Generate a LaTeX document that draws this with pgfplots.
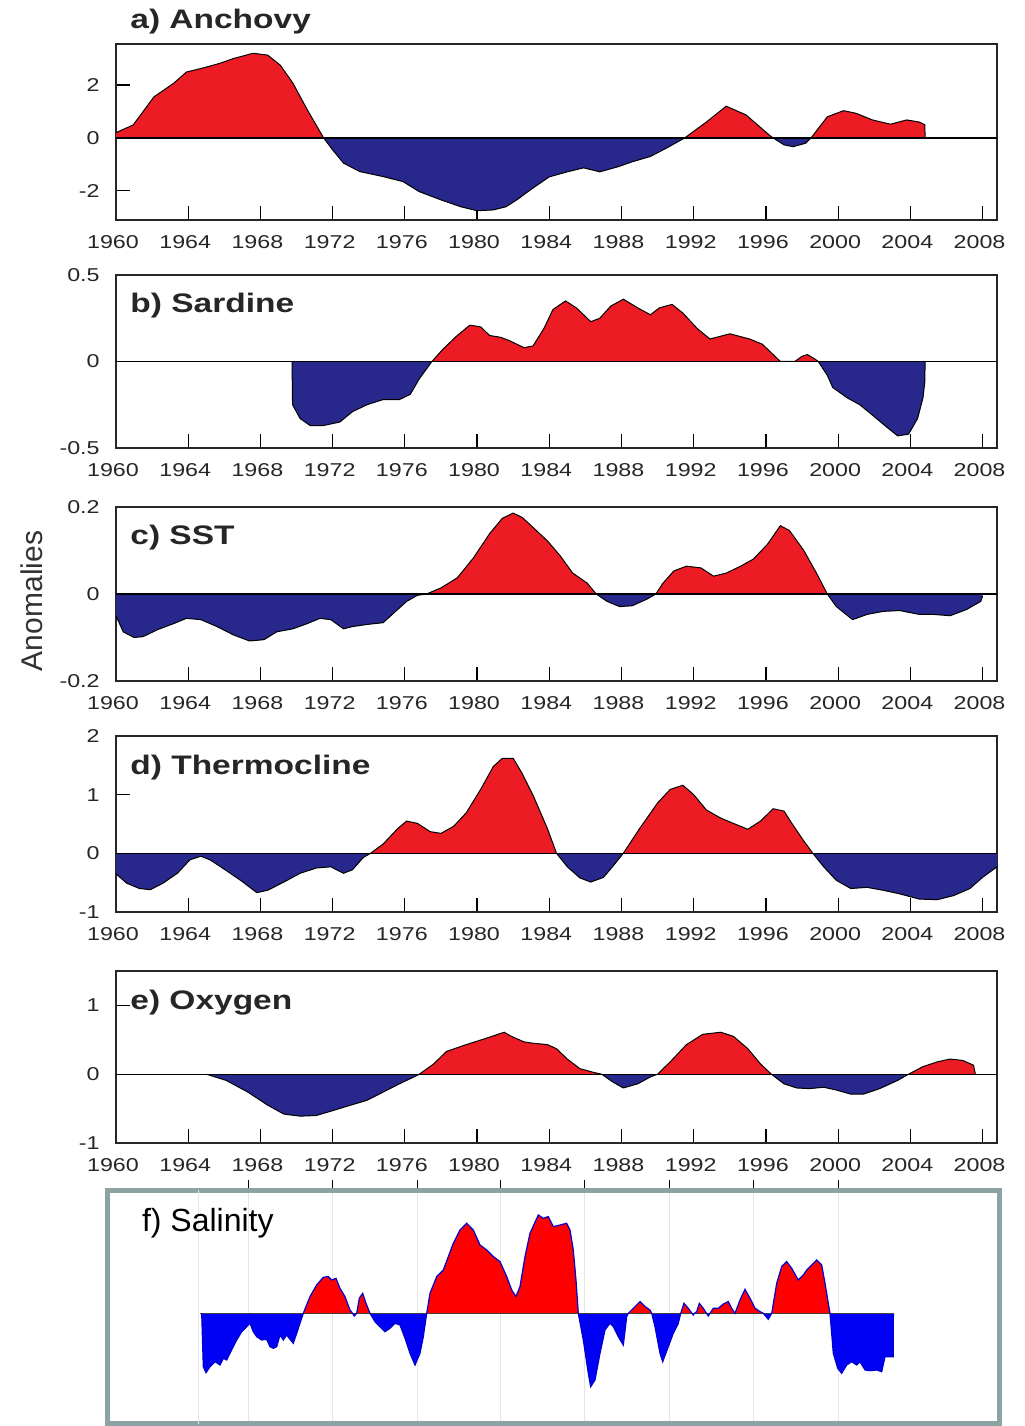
\documentclass[border=0pt]{standalone}
\usepackage{pgfplots}
\pgfplotsset{compat=1.18}
\usepackage{pgfplotstable}
\usepackage{fontspec}
\setmainfont{Liberation Sans}
\newfontfamily\stretchfont[FakeStretch=1.25]{Liberation Sans}
\definecolor{ared}{RGB}{237,28,36}
\definecolor{anavy}{RGB}{40,40,140}
\definecolor{fred}{RGB}{255,0,0}
\definecolor{fblue}{RGB}{0,0,245}
\definecolor{fframe}{RGB}{140,163,163}
\newcommand\tf{\stretchfont\fontsize{9.3pt}{10pt}\selectfont}
\newcommand\ttl{\stretchfont\bfseries\fontsize{13.4pt}{15pt}\selectfont}

\pgfplotstableread{
x y
1960 0.2
1960.95 0.49
1962.1 1.55
1963.2 2.07
1963.9 2.49
1964.8 2.64
1965.8 2.83
1966.5 3.0
1967.6 3.2
1968.4 3.13
1969.1 2.75
1969.8 2.07
1970.6 1.06
1971.5 0
1972.0 -0.45
1972.6 -0.95
1973.5 -1.27
1974.8 -1.46
1975.9 -1.65
1976.8 -2.03
1978.0 -2.34
1979.1 -2.6
1980.0 -2.75
1980.9 -2.72
1981.6 -2.6
1982.2 -2.34
1983.1 -1.89
1984.0 -1.47
1985.0 -1.28
1985.9 -1.13
1986.8 -1.28
1987.8 -1.09
1988.6 -0.9
1989.6 -0.7
1990.5 -0.38
1991.5 0
1992.7 0.6
1993.8 1.2
1994.9 0.87
1996.2 0.1
1996.4 0
1997.0 -0.26
1997.5 -0.33
1998.2 -0.2
1998.5 0
1999.4 0.8
2000.3 1.03
2001.0 0.93
2001.9 0.68
2002.9 0.52
2003.8 0.68
2004.5 0.6
2004.8 0.5
2004.82 0
}\anch

\pgfplotstableread{
x y
1969.75 0
1969.78 -0.25
1970.2 -0.33
1970.75 -0.37
1971.5 -0.37
1972.4 -0.35
1973.1 -0.29
1973.9 -0.25
1974.8 -0.22
1975.7 -0.22
1976.3 -0.19
1976.8 -0.1
1977.5 0
1978.1 0.07
1978.9 0.15
1979.6 0.21
1980.2 0.2
1980.7 0.15
1981.3 0.14
1981.8 0.12
1982.6 0.08
1983.1 0.09
1983.7 0.19
1984.2 0.3
1984.9 0.35
1985.5 0.31
1986.3 0.23
1986.8 0.25
1987.4 0.32
1988.1 0.36
1988.9 0.31
1989.6 0.27
1990.1 0.31
1990.8 0.33
1991.4 0.28
1992.2 0.19
1992.9 0.13
1994.0 0.16
1995.1 0.13
1995.8 0.1
1996.4 0.04
1996.8 0
1997.6 0
1998.0 0.03
1998.3 0.04
1998.7 0.015
1998.9 0
1999.4 -0.08
1999.7 -0.15
2000.5 -0.21
2001.2 -0.25
2001.9 -0.31
2002.7 -0.38
2003.3 -0.43
2003.9 -0.42
2004.4 -0.33
2004.7 -0.21
2004.8 -0.12
2004.82 0
}\sard

\pgfplotstableread{
x y
1960 -0.05
1960.4 -0.087
1961 -0.10
1961.5 -0.098
1962.3 -0.082
1963.2 -0.068
1963.9 -0.056
1964.7 -0.059
1965.6 -0.075
1966.5 -0.094
1967.4 -0.108
1968.2 -0.105
1968.9 -0.087
1969.8 -0.08
1970.6 -0.068
1971.3 -0.056
1971.9 -0.059
1972.6 -0.08
1973.1 -0.075
1973.9 -0.07
1974.8 -0.066
1975.3 -0.047
1976.1 -0.017
1976.7 -0.003
1977.2 0
1978.0 0.014
1978.9 0.037
1979.8 0.083
1980.7 0.139
1981.4 0.174
1982.0 0.186
1982.5 0.176
1983.1 0.153
1983.9 0.122
1984.6 0.088
1985.3 0.048
1986.1 0.025
1986.6 0
1987.2 -0.017
1987.9 -0.029
1988.6 -0.027
1989.4 -0.012
1989.9 0
1990.3 0.025
1990.9 0.053
1991.6 0.064
1992.4 0.06
1993.1 0.041
1993.8 0.048
1994.6 0.064
1995.3 0.08
1996.1 0.115
1996.8 0.157
1997.3 0.146
1998.1 0.1
1998.8 0.048
1999.4 0
1999.9 -0.029
2000.8 -0.059
2001.6 -0.047
2002.5 -0.04
2003.4 -0.038
2004.5 -0.047
2005.3 -0.047
2006.2 -0.05
2007.1 -0.036
2007.9 -0.017
2008.0 -0.005
}\sst

\pgfplotstableread{
x y
1960 -0.35
1960.6 -0.51
1961.3 -0.6
1961.9 -0.62
1962.6 -0.51
1963.4 -0.34
1964.1 -0.11
1964.7 -0.05
1965.2 -0.11
1965.9 -0.25
1966.9 -0.46
1967.8 -0.67
1968.4 -0.63
1969.3 -0.49
1970.2 -0.34
1971.1 -0.25
1971.9 -0.23
1972.6 -0.34
1973.1 -0.28
1973.7 -0.07
1974.1 0
1974.8 0.16
1975.6 0.42
1976.1 0.55
1976.7 0.51
1977.4 0.37
1978.0 0.34
1978.7 0.46
1979.4 0.69
1980.2 1.09
1980.9 1.48
1981.4 1.62
1982.0 1.62
1982.5 1.36
1983.1 0.99
1983.9 0.42
1984.4 0
1985.0 -0.23
1985.7 -0.42
1986.3 -0.49
1987.0 -0.41
1987.5 -0.23
1988.1 0
1989.0 0.42
1990.0 0.86
1990.7 1.09
1991.4 1.16
1992.0 1.0
1992.7 0.74
1993.5 0.6
1994.2 0.51
1995.0 0.41
1995.7 0.55
1996.4 0.76
1997.0 0.72
1997.5 0.48
1998.1 0.21
1998.6 0
1999.2 -0.23
1999.9 -0.46
2000.7 -0.6
2001.6 -0.58
2002.5 -0.63
2003.4 -0.69
2004.5 -0.78
2005.5 -0.79
2006.4 -0.72
2007.3 -0.6
2008.0 -0.41
2008.8 -0.23
}\therm

\pgfplotstableread{
x y
1965.0 0
1966.1 -0.09
1967.3 -0.26
1968.4 -0.45
1969.3 -0.58
1970.2 -0.61
1971.1 -0.6
1972.0 -0.53
1973.0 -0.45
1973.9 -0.38
1974.8 -0.26
1975.7 -0.14
1976.5 -0.04
1976.8 0
1977.6 0.15
1978.3 0.33
1979.4 0.43
1980.6 0.53
1981.5 0.61
1981.9 0.55
1982.6 0.47
1983.1 0.45
1983.9 0.43
1984.4 0.37
1985.0 0.22
1985.7 0.08
1986.4 0.03
1986.9 0
1987.5 -0.11
1988.1 -0.2
1988.9 -0.14
1989.6 -0.04
1990.0 0
1990.7 0.18
1991.6 0.43
1992.5 0.58
1993.5 0.61
1994.2 0.55
1995.0 0.37
1995.7 0.15
1996.3 0
1997.0 -0.14
1997.7 -0.2
1998.4 -0.21
1999.2 -0.19
1999.9 -0.23
2000.7 -0.29
2001.4 -0.29
2002.3 -0.21
2003.3 -0.09
2003.9 0
2004.7 0.11
2005.5 0.18
2006.2 0.22
2006.9 0.2
2007.5 0.13
2007.6 0
}\oxy

\pgfplotstableread{
x y
201.7 0
203.3 -53.4
206 -59.4
210 -53.4
215 -48.4
220 -51.7
223.3 -45
226.7 -46.7
230 -40
236.7 -26.7
241.7 -18.4
246.7 -13.4
250 -10
253.3 -18.4
256.7 -23.4
261.7 -26.7
266.7 -26
270 -33.4
273.3 -35
276.7 -33.4
280 -21.7
283.3 -26.7
286.7 -21.7
290 -26
293.3 -30
296.7 -20
300 -10
303.3 0
310 16.7
316.7 28.4
323.3 36
328.3 36.7
331.7 33.3
336 35
340 25
345 16.7
350 3.3
352.5 0
354.3 -2.7
356.7 0
359.3 15
362.7 20
366 10
370 0
375 -8.4
380 -13.4
385 -18.4
390 -15
395 -10
400 -11.7
405 -25
410 -40
415 -51.7
420 -40
423.3 -23.4
426.7 0
430 20
436.7 36.7
443.3 43.3
448.3 56.7
453.3 70
460 83.3
466.7 90
473.3 83.3
480 68.3
486.7 63.3
493.3 56.7
500 51.7
506.7 36.7
511.7 23.3
516 16.7
520 26.7
525 56.7
530 80
538.3 98.3
543.3 95
548.3 96.7
553.3 86.7
560 88.3
566.7 90
570 83.3
573.3 63.3
576 33.3
578.3 0
583.3 -26.7
588.3 -60
590.7 -73.4
595 -66.7
600 -40
605 -16.7
610 -10
613.3 -13.4
618.3 -23.4
623.3 -31.7
626.7 -3.4
628.3 0
633.3 5
640 11.7
645 6.7
650 3.3
651.7 0
655 -13.4
660 -40
662.7 -48.4
668.3 -33.4
673.3 -20
678.3 -10
680.7 0
684 10
688.3 5
692 0
693.3 -1.7
694.5 0
696.7 1.7
699.3 10
703.3 5
706.5 0
708.3 -2.7
710 0
713.3 5
718.3 5
723.3 9.3
728.3 11.7
731.7 5
735 0
740 13.3
745 24
750 15
755 5
760 1.7
763.3 0
768.3 -6
771.7 0
776.7 30
781.7 46.7
786.7 51.7
791.7 45
798.3 33.3
803.3 38.3
806.7 43.3
811.7 48.3
816.7 53.3
821.7 48.3
825 30
828.3 10
830 0
833.3 -40
837.7 -55
841.7 -60
846.7 -51.7
851.7 -48.4
856.7 -51.7
860 -48.4
865 -56.7
870 -57.4
876.7 -56.7
881.7 -58.4
885 -43.4
890 -43.4
893.3 -43.4
893.4 0
}\sal

\pgfplotsset{
  panel/.style={
    scale only axis, width=440.5pt, anchor=south west,
    xmin=1960, xmax=2008.8,
    xtick={1960,1964,1968,1972,1976,1980,1984,1988,1992,1996,2000,2004,2008},
    xticklabels={1960,1964,1968,1972,1976,1980,1984,1988,1992,1996,2000,2004,2008},
    xtick pos=left, ytick pos=left, tick align=inside,
    major tick length=7pt,
    tick style={line width=0.6pt, black},
    axis line style={line width=0.8pt, black!85},
    xticklabel style={font=\tf, inner sep=0pt, yshift=-7.5pt, xshift=-1.5pt, text=black!85},
    yticklabel style={font=\tf, inner sep=0pt, xshift=-8pt, text=black!85},
  },
}
\newcommand\anomfill[2]{%
  \addplot[draw=none, fill=ared] table[x=x, y expr={max(\thisrow{y},0)}] {#1} \closedcycle;
  \addplot[draw=none, fill=anavy] table[x=x, y expr={min(\thisrow{y},0)}] {#1} \closedcycle;
  \addplot[black, line width=0.5pt] table[x=x, y=y] {#1};
  \addplot[black, line width=0.6pt] coordinates {(1960,0) (#2,0)};
}

\begin{document}
\begin{tikzpicture}
\useasboundingbox (0,0) rectangle (512pt,713pt);

% a) Anchovy
\begin{axis}[panel, at={(58pt,603pt)}, height=88pt, ymin=-3.1, ymax=3.55,
  ytick={-2,0,2}, yticklabels={-2,0,2}]
\anomfill{\anch}{2008.8}
\end{axis}

% b) Sardine
\begin{axis}[panel, at={(58pt,489pt)}, height=86.5pt, ymin=-0.5, ymax=0.5,
  ytick={-0.5,0,0.5}, yticklabels={-0.5,0,0.5}]
\anomfill{\sard}{2008.8}
\end{axis}

% c) SST
\begin{axis}[panel, at={(58pt,372.5pt)}, height=87pt, ymin=-0.2, ymax=0.2,
  ytick={-0.2,0,0.2}, yticklabels={-0.2,0,0.2}]
\anomfill{\sst}{2008.8}
\end{axis}

% d) Thermocline
\begin{axis}[panel, at={(58pt,257pt)}, height=88pt, ymin=-1, ymax=2,
  ytick={-1,0,1,2}, yticklabels={-1,0,1,2}]
\anomfill{\therm}{2008.8}
\end{axis}

% e) Oxygen
\begin{axis}[panel, at={(58pt,141.5pt)}, height=86pt, ymin=-1, ymax=1.5,
  ytick={-1,0,1}, yticklabels={-1,0,1}]
\anomfill{\oxy}{2008.8}
\end{axis}

% f) Salinity
\begin{axis}[scale only axis, anchor=south west, at={(53.75pt,1.25pt)},
  width=446pt, height=116.5pt,
  xmin=107.5, xmax=999.5, ymin=-110.2, ymax=122.8,
  axis line style={line width=2.5pt, fframe},
  xtick={248,332,417,500,584,669,753,838}, xticklabels={},
  xtick pos=right, tick align=outside, major tick length=5.25pt,
  tick style={black, line width=0.5pt},
  ytick=\empty,
  xmajorgrids, grid style={black!10, line width=0.5pt},
  extra x ticks={198}, extra x tick labels={},
  extra x tick style={major tick length=0pt},
]
\addplot[draw=none, fill=fred] table[x=x, y expr={max(\thisrow{y},0)}] {\sal} \closedcycle;
\addplot[draw=none, fill=fblue] table[x=x, y expr={min(\thisrow{y},0)}] {\sal} \closedcycle;
\addplot[black!75, line width=0.6pt] coordinates {(200,0) (893.4,0)};
\addplot[fblue!85!black, line width=0.6pt] table[x=x, y=y] {\sal};
\end{axis}

% titles
\node[anchor=base west, inner sep=0pt, font=\ttl, text=black!85] at (65pt,698.5pt) {a) Anchovy};
\node[anchor=base west, inner sep=0pt, font=\ttl, text=black!85] at (65pt,556.5pt) {b) Sardine};
\node[anchor=base west, inner sep=0pt, font=\ttl, text=black!85] at (65pt,440.5pt) {c) SST};
\node[anchor=base west, inner sep=0pt, font=\ttl, text=black!85] at (65pt,325.5pt) {d) Thermocline};
\node[anchor=base west, inner sep=0pt, font=\ttl, text=black!85] at (65pt,208.3pt) {e) Oxygen};
\node[anchor=base west, inner sep=0pt, font=\fontsize{16pt}{18pt}\selectfont] at (70.8pt,97.2pt) {f) Salinity};
\node[rotate=90, font=\fontsize{15pt}{17pt}\selectfont, text=black!80] at (16pt,412.5pt) {Anomalies};
\end{tikzpicture}
\end{document}
